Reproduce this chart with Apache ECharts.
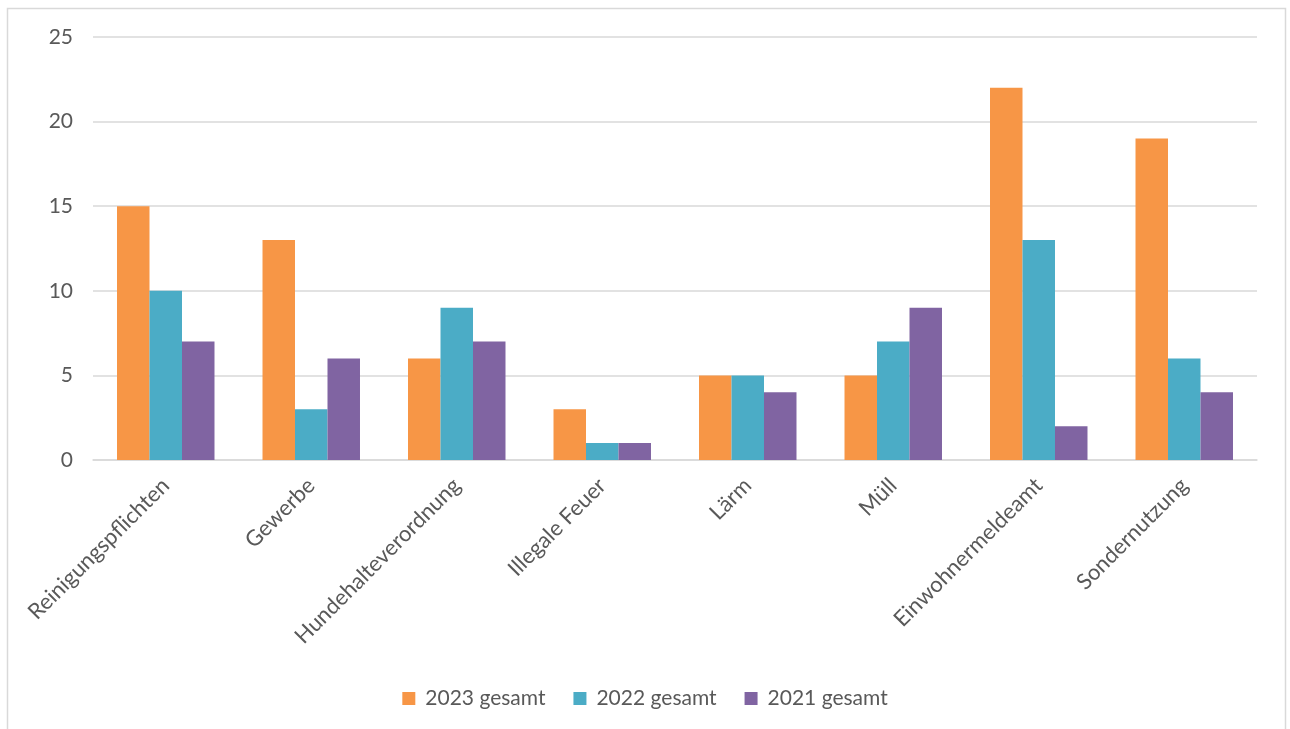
<!DOCTYPE html>
<html><head><meta charset="utf-8">
<script src="https://cdn.jsdelivr.net/npm/echarts@6/dist/echarts.min.js"></script>
<style>html,body{margin:0;padding:0;background:#fff}#c{width:1290px;height:729px}</style>
</head><body><div id="c"></div>
<script>
const categories = ['Reinigungspflichten','Gewerbe','Hundehalteverordnung','Illegale Feuer','Lärm','Müll','Einwohnermeldeamt','Sondernutzung'];
const s2023 = [15,13,6,3,5,5,22,19];
const s2022 = [10,3,9,1,5,7,13,6];
const s2021 = [7,6,7,1,4,9,2,4];
const seriesNames = ['2023 gesamt','2022 gesamt','2021 gesamt'];
const colors = ['#F79646','#4BACC6','#8064A2'];
const font = 'Lato, "Open Sans", sans-serif';
const chart = echarts.init(document.getElementById('c'));
chart.setOption({
  animation:false,
  color: colors,
  textStyle:{fontFamily:font},
  graphic:[{type:'rect',shape:{x:7.5,y:8.5,width:1278,height:740},style:{fill:'none',stroke:'#d9d9d9',lineWidth:1.5},silent:true}],
  grid:{left:93,right:33,top:37,bottom:269},
  legend:{bottom:15,left:'center',itemWidth:13,itemHeight:13,itemGap:28,icon:'rect',
    textStyle:{fontSize:21,color:'#595959',fontFamily:font,padding:[0,0,0,5]},data:seriesNames},
  xAxis:{type:'category',data:categories,
    axisLine:{lineStyle:{color:'#d9d9d9',width:1.5}},axisTick:{show:false},
    axisLabel:{rotate:45,fontSize:22,color:'#595959',margin:22,interval:0,fontFamily:font}},
  yAxis:{type:'value',min:0,max:25,interval:5,
    axisLine:{show:false},axisTick:{show:false},
    splitLine:{lineStyle:{color:'#d9d9d9',width:1.5}},
    axisLabel:{fontSize:21,color:'#595959',margin:20,fontFamily:font}},
  series:[
    {name:seriesNames[0],type:'bar',data:s2023,barGap:'0%',barCategoryGap:'33%'},
    {name:seriesNames[1],type:'bar',data:s2022,barGap:'0%',barCategoryGap:'33%'},
    {name:seriesNames[2],type:'bar',data:s2021,barGap:'0%',barCategoryGap:'33%'}
  ]
});
</script></body></html>
